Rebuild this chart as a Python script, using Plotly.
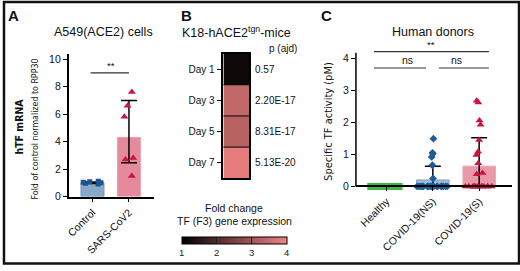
import plotly.graph_objects as go

W, H = 520, 271
def px(x): return x / W
def py(y): return 1 - y / H

FONT = "Liberation Sans, Arial, Helvetica, sans-serif"
NARROW = "Liberation Sans Narrow, DejaVu Sans Condensed, Arial Narrow, sans-serif"

# ---------------- Panel A data ----------------
a_groups = ["Control", "SARS-CoV2"]
a_means = [1.0, 4.3]
a_err_up = [0.05, 2.68]
a_err_down = [0.05, 1.84]
a_ctrl_points = [0.92, 0.96, 1.0, 1.03, 1.07, 1.12]
a_sars_points = [7.6, 6.6, 5.8, 2.8, 2.7, 1.5]

# ---------------- Panel B data ----------------
b_days = ["Day 1", "Day 3", "Day 5", "Day 7"]
b_fold = [1.2, 3.4, 3.27, 3.83]
b_pvals = ["0.57", "2.20E-17", "8.31E-17", "5.13E-20"]
b_ticks = [1, 2, 3, 4]

# ---------------- Panel C data ----------------
c_groups = ["Healthy", "COVID-19(NS)", "COVID-19(S)"]
c_means = [0.0, 0.2, 0.63]
c_err_up = [0.0, 0.43, 0.89]
c_healthy = [0.0] * 14
c_ns = [1.49, 1.05, 1.02, 0.92, 0.66, 0.25] + [0.0] * 21
c_s = [2.68, 2.62, 2.06, 1.93, 1.45, 1.08, 0.98, 0.72, 0.42, 0.38] + [0.0] * 14

fig = go.Figure()

# ---- Panel A ----
fig.add_trace(go.Bar(
    x=a_groups, y=a_means, width=0.63,
    marker=dict(color=["#88a8c7", "#e58a9c"], line=dict(color=["#6f95bb", "#eaa2b0"], width=1)),
    error_y=dict(type="data", array=a_err_up, arrayminus=a_err_down, color="black", thickness=1.5, width=8),
    xaxis="x", yaxis="y", showlegend=False))
fig.add_trace(go.Box(
    x=[a_groups[0]] * len(a_ctrl_points), y=a_ctrl_points, boxpoints="all", jitter=1, pointpos=0, width=0.6,
    fillcolor="rgba(0,0,0,0)", line=dict(width=0, color="rgba(0,0,0,0)"),
    marker=dict(symbol="square", size=5, color="#1d5590"), xaxis="x", yaxis="y", showlegend=False))
fig.add_trace(go.Box(
    x=[a_groups[1]] * len(a_sars_points), y=a_sars_points, boxpoints="all", jitter=0.5, pointpos=0, width=0.6,
    fillcolor="rgba(0,0,0,0)", line=dict(width=0, color="rgba(0,0,0,0)"),
    marker=dict(symbol="triangle-up", size=7, color="#cf1140"), xaxis="x", yaxis="y", showlegend=False))

# ---- Panel B ----
fig.add_trace(go.Heatmap(
    z=[[v] for v in b_fold], x=["F3"], y=b_days, zmin=1, zmax=4,
    colorscale=[[0, "#000000"], [1, "#f38282"]],
    xaxis="x2", yaxis="y2", showscale=True,
    colorbar=dict(orientation="h", x=px(232.5), xanchor="center", y=py(242), yanchor="top",
                  thickness=7, len=105, lenmode="pixels", xpad=0, ypad=0,
                  tickvals=b_ticks, ticks="inside", ticklen=7, tickcolor="#222", tickwidth=1,
                  outlinecolor="black", outlinewidth=1,
                  tickfont=dict(family=FONT, size=9.5, color="#222"))))

# ---- Panel C ----
fig.add_trace(go.Bar(
    x=c_groups, y=c_means, width=0.7,
    marker=dict(color=["#3cb54a", "#a3bdd8", "#e99aaa"], line=dict(color=["#3cb54a", "#7b9ec2", "#eaa2b0"], width=1)),
    error_y=dict(type="data", array=c_err_up, arrayminus=c_means, color="black", thickness=1.5, width=8),
    xaxis="x3", yaxis="y3", showlegend=False))
for grp, pts, sym, col, sz in [(c_groups[0], c_healthy, "square", "#3cb54a", 7),
                               (c_groups[1], c_ns, "diamond", "#1d5c9a", 6),
                               (c_groups[2], c_s, "triangle-up", "#cf1140", 7)]:
    fig.add_trace(go.Box(
        x=[grp] * len(pts), y=pts, boxpoints="all", jitter=1, pointpos=0, width=0.7,
        fillcolor="rgba(0,0,0,0)", line=dict(width=0, color="rgba(0,0,0,0)"),
        marker=dict(symbol=sym, size=sz, color=col), xaxis="x3", yaxis="y3", showlegend=False))

axis_common = dict(showline=True, linecolor="black", linewidth=1.5, ticks="outside", ticklen=4,
                   tickcolor="black", tickwidth=1, showgrid=False, zeroline=False,
                   tickfont=dict(family=FONT, size=10.5, color="#111"))

A_X = [-0.654, 1.69]
C_X = [-0.66, 2.71]
C_PXU = 32.83           # pixels per unit in panel C
C_Y = [-0.13, 4.18]
C_YDOM = [py(190.3 + 0.13 * C_PXU), py(53)]

fig.update_layout(
    width=W, height=H, margin=dict(l=0, r=0, t=0, b=0),
    paper_bgcolor="white", plot_bgcolor="rgba(0,0,0,0)",
    barmode="overlay", boxmode="overlay",
    xaxis=dict(domain=[px(66), px(152)], range=A_X, tickangle=-45, anchor="y", **axis_common),
    yaxis=dict(domain=[py(200.7), py(54)], range=[0, 10.4], tickvals=[0, 2, 4, 6, 8, 10], anchor="x", **axis_common),
    xaxis2=dict(domain=[px(221.7), px(247.7)], showticklabels=False, ticks="", showline=True, mirror=True,
                linecolor="black", linewidth=1.5, anchor="y2", showgrid=False, zeroline=False),
    yaxis2=dict(domain=[py(182), py(54)], autorange="reversed", showline=True, mirror=True,
                linecolor="black", linewidth=1.5, ticks="outside", ticklen=5, tickcolor="black",
                tickfont=dict(family=FONT, size=10, color="#111"), anchor="x2", showgrid=False, zeroline=False),
    xaxis3=dict(domain=[px(355), px(512)], range=C_X, tickangle=-45, anchor="free", position=py(190.3),
                **axis_common),
    yaxis3=dict(domain=C_YDOM, range=C_Y, tickvals=[0, 1, 2, 3, 4], anchor="x3",
                **{**axis_common, "showline": False}),
)
fig.update_traces(cliponaxis=False, selector=dict(type="bar"))

ann = []
def text(x, y, s, size=10, xanchor="center", yanchor="middle", angle=0, family=FONT, **kw):
    ann.append(dict(x=px(x), y=py(y), xref="paper", yref="paper", text=s, showarrow=False,
                    xanchor=xanchor, yanchor=yanchor, textangle=angle,
                    font=dict(family=family, size=size, color="#111"), **kw))

# Panel letters & titles
text(3, 15, "<b>A</b>", size=15, xanchor="left")
text(177, 15, "<b>B</b>", size=15, xanchor="left")
text(318, 15, "<b>C</b>", size=15, xanchor="left")
text(101, 32, "A549(ACE2) cells", size=12.5)
text(178, 32, "K18-hACE2<sup>tgn</sup>-mice", size=12.5, xanchor="left")
text(432, 32, "Human donors", size=12.5)
# y titles
text(16, 129, "<b>hTF mRNA</b>", size=10.5, angle=-90, family=NARROW)
text(32, 131, "Fold of control normalized to RPP30", size=8.8, angle=-90, family=NARROW)
text(328, 124, "Specific TF activity (pM)", size=11, angle=-90, family=NARROW)
# Panel B labels
text(298, 49, "p (ajd)", size=10, xanchor="right")
for d, p in zip(b_days, b_pvals):
    ann.append(dict(x=1, y=d, xref="x2 domain", yref="y2", text=p, showarrow=False, xanchor="left",
                    xshift=4, font=dict(family=FONT, size=10, color="#111")))
text(232.5, 212, "Fold change", size=10.5)
text(232.5, 226, "TF (F3) gene expression", size=10.5)

# significance brackets
shapes = []
sig_a = [(0, 1, 9.0, "**")]
for i, j, lvl, lab in sig_a:
    shapes.append(dict(type="line", xref="x", yref="y", x0=i - 0.05, x1=j, y0=lvl, y1=lvl,
                       line=dict(color="#333", width=1.2)))
    ann.append(dict(x=(i + j) / 2, y=lvl, xref="x", yref="y", text=lab, showarrow=False, yanchor="bottom",
                    font=dict(family=FONT, size=9.5, color="#111")))

def cx(v):  # panel C x data -> x3 domain fraction
    return (v - C_X[0]) / (C_X[1] - C_X[0])
def cy(v):  # panel C y data -> paper
    return C_YDOM[0] + (v - C_Y[0]) / (C_Y[1] - C_Y[0]) * (C_YDOM[1] - C_YDOM[0])

sig_c = [(-0.27, 2.21, 4.21, "**"), (-0.27, 0.85, 3.7, "ns"), (1.13, 2.21, 3.7, "ns")]
for x0, x1, lvl, lab in sig_c:
    shapes.append(dict(type="line", xref="x3 domain", yref="paper", x0=cx(x0), x1=cx(x1), y0=cy(lvl), y1=cy(lvl),
                       line=dict(color="#333", width=1.2)))
    ann.append(dict(x=cx((x0 + x1) / 2), y=cy(lvl), xref="x3 domain", yref="paper", text=lab, showarrow=False,
                    yanchor="bottom", font=dict(family=FONT, size=10.5 if lab == "ns" else 9.5, color="#111")))
# panel C y axis line (from 0 to top)
shapes.append(dict(type="line", xref="x3 domain", yref="paper", x0=0, x1=0, y0=cy(0), y1=cy(C_Y[1]),
                   line=dict(color="black", width=1.5)))
# heatmap cell separators
for k in range(len(b_days) - 1):
    shapes.append(dict(type="line", xref="x2 domain", yref="y2", x0=0, x1=1, y0=k + 0.5, y1=k + 0.5,
                       line=dict(color="black", width=1)))
# outer frame
shapes.append(dict(type="rect", xref="paper", yref="paper", x0=px(1), x1=px(519), y0=py(269.5), y1=py(1),
                   line=dict(color="#111", width=2.5)))

fig.update_layout(annotations=ann, shapes=shapes)
fig.write_html("out.html", config={"displayModeBar": False},
               post_script="document.body.style.margin='0';document.body.style.overflow='hidden';")
